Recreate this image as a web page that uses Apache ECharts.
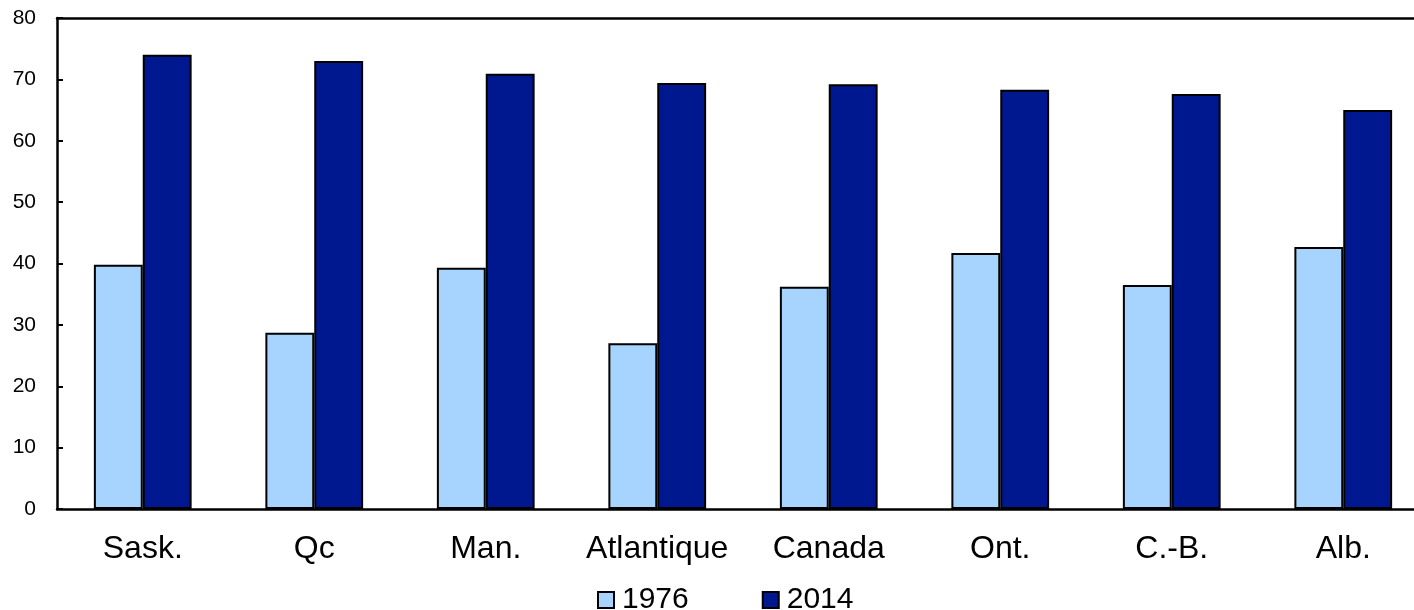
<!DOCTYPE html>
<html>
<head>
<meta charset="utf-8">
<script src="https://cdn.jsdelivr.net/npm/echarts@6/dist/echarts.min.js"></script>
<style>html,body{margin:0;padding:0;background:#fff;overflow:hidden}#c{width:1440px;height:610px}</style>
</head>
<body>
<div id="c"></div>
<script>
const categories = ['Sask.', 'Qc', 'Man.', 'Atlantique', 'Canada', 'Ont.', 'C.-B.', 'Alb.'];
const values1976 = [39.8, 28.7, 39.3, 27.0, 36.2, 41.7, 36.5, 42.7];
const values2014 = [74.0, 73.0, 70.9, 69.4, 69.2, 68.3, 67.6, 65.0];
const seriesNames = ['1976', '2014'];
const yTicks = { min: 0, max: 80, interval: 10 };

const font = '"Liberation Sans", Arial, sans-serif';
const chart = echarts.init(document.getElementById('c'), null, { renderer: 'canvas' });
chart.setOption({
  animation: false,
  backgroundColor: '#ffffff',
  textStyle: { fontFamily: font, color: '#000' },
  grid: { left: 57, top: 18, width: 1372, height: 491, containLabel: false },
  legend: {
    data: seriesNames,
    left: 592, top: 580,
    itemWidth: 16, itemHeight: 16, itemGap: 73,
    icon: 'rect',
    textStyle: { fontSize: 30, color: '#000', fontFamily: font, padding: [0, 0, 0, 3] }
  },
  xAxis: [{
    type: 'category', data: categories, position: 'bottom',
    axisLine: { lineStyle: { color: '#000', width: 2.5 } },
    axisTick: { show: false },
    axisLabel: { interval: 0, fontSize: 32, color: '#000', margin: 24, fontFamily: font }
  }, {
    type: 'category', data: categories, position: 'top',
    axisLine: { show: true, onZero: false, lineStyle: { color: '#000', width: 2.5 } },
    axisTick: { show: false }, axisLabel: { show: false }
  }],
  yAxis: {
    type: 'value', min: yTicks.min, max: yTicks.max, interval: yTicks.interval,
    axisLine: { show: true, lineStyle: { color: '#000', width: 2.5 } },
    axisTick: { show: true, inside: true, length: 6, lineStyle: { color: '#000', width: 2 } },
    splitLine: { show: false },
    axisLabel: { fontSize: 21, color: '#000', margin: 21, fontFamily: font }
  },
  series: [{
    name: seriesNames[0], type: 'bar', data: values1976,
    barWidth: '28.5%', barGap: '0%',
    itemStyle: { color: '#A6D4FF', borderColor: '#000', borderWidth: 2 }
  }, {
    name: seriesNames[1], type: 'bar', data: values2014,
    barWidth: '28.5%', barGap: '0%',
    itemStyle: { color: '#00188F', borderColor: '#000', borderWidth: 2 }
  }]
});
</script>
</body>
</html>
